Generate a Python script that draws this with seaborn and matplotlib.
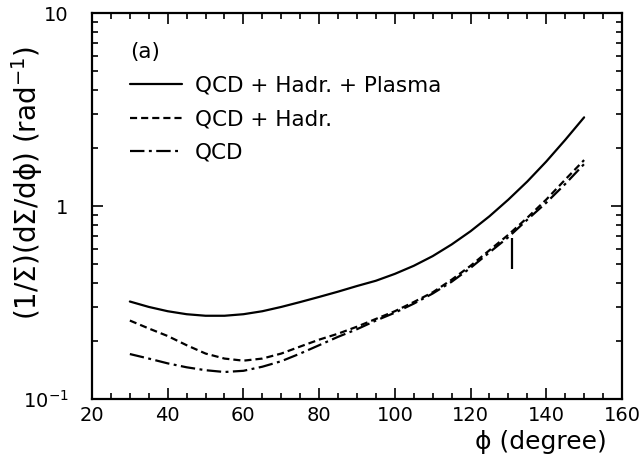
import numpy as np
import pandas as pd
import seaborn as sns
import matplotlib
matplotlib.use("Agg")
from matplotlib import pyplot as plt
from matplotlib import ticker

# datos
phi = [30, 35, 40, 45, 50, 55, 60, 65, 70, 75, 80, 85, 90, 95, 100,
       105, 110, 115, 120, 125, 130, 135, 140, 145, 150]

qcd_hadr_plasma = [0.32, 0.30, 0.285, 0.275, 0.27, 0.27, 0.275, 0.285, 0.30, 0.318,
                   0.338, 0.36, 0.385, 0.41, 0.445, 0.49, 0.55, 0.632, 0.74, 0.885,
                   1.08, 1.34, 1.70, 2.20, 2.88]
qcd_hadr = [0.255, 0.232, 0.212, 0.19, 0.172, 0.162, 0.158, 0.162, 0.172, 0.187,
            0.203, 0.218, 0.237, 0.26, 0.285, 0.318, 0.357, 0.415, 0.49, 0.59,
            0.71, 0.87, 1.08, 1.37, 1.73]
qcd = [0.171, 0.162, 0.153, 0.146, 0.141, 0.138, 0.140, 0.147, 0.157, 0.172,
       0.19, 0.21, 0.23, 0.255, 0.28, 0.312, 0.352, 0.405, 0.478, 0.575,
       0.69, 0.85, 1.04, 1.30, 1.65]

labels = ['QCD + Hadr. + Plasma', 'QCD + Hadr.', 'QCD']

# marca vertical cerca de 130 grados
mark_x = [131]
mark_lo = [0.47]
mark_hi = [0.68]

# se arma el DataFrame en formato largo
df = pd.DataFrame({
    'phi': phi * 3,
    'valor': qcd_hadr_plasma + qcd_hadr + qcd,
    'modelo': [labels[0]] * len(phi) + [labels[1]] * len(phi) + [labels[2]] * len(phi),
})

sns.set_style('ticks')
plt.rcParams['font.family'] = ['DejaVu Sans']
plt.rcParams['text.color'] = 'black'
plt.rcParams['axes.labelcolor'] = 'black'
plt.rcParams['xtick.color'] = 'black'
plt.rcParams['ytick.color'] = 'black'

fig = plt.figure(figsize=(6.42, 4.58), dpi=100)
ax = fig.add_axes([0.1433, 0.1288, 0.8255, 0.8428])

sns.lineplot(data=df, x='phi', y='valor', style='modelo', style_order=labels,
             dashes={labels[0]: '', labels[1]: (3.2, 1.8), labels[2]: (6.5, 2.0, 1.3, 2.0)},
             color='black', linewidth=1.6, ax=ax)

ax.vlines(mark_x, mark_lo, mark_hi, color='black', linewidth=1.6)

# escalas y ejes
ax.set_yscale('log')
ax.set_xlim(20, 160)
ax.set_ylim(0.1, 10)
ax.xaxis.set_major_locator(ticker.MultipleLocator(20))
ax.xaxis.set_minor_locator(ticker.MultipleLocator(5))
ax.yaxis.set_major_locator(ticker.FixedLocator([0.1, 1, 10]))
ax.yaxis.set_major_formatter(ticker.FixedFormatter(['$10^{-1}$', '1', '10']))
ax.yaxis.set_minor_locator(ticker.LogLocator(base=10, subs=np.arange(2, 10)))
ax.yaxis.set_minor_formatter(ticker.NullFormatter())

ax.tick_params(which='both', direction='in', top=True, right=True, width=1.2, color='black')
ax.tick_params(which='major', length=8, labelsize=14)
ax.tick_params(which='minor', length=4.5)
ax.tick_params(axis='x', which='major', pad=5)
ax.tick_params(axis='y', which='major', pad=17)
for s in ax.spines.values():
    s.set_linewidth(1.6)
    s.set_color('black')

ax.set_xlabel('ϕ (degree)', fontsize=18, ha='right')
ax.xaxis.set_label_coords(0.972, -0.08)
ax.set_ylabel('(1/Σ)(dΣ/dϕ) (rad$^{-1}$)', fontsize=20)
ax.yaxis.set_label_coords(-0.088, 0.56)

ax.text(0.0717, 0.899, '(a)', transform=ax.transAxes, fontsize=15.5, va='center', ha='left')

handles, labs = ax.get_legend_handles_labels()
ax.legend(handles, labs, frameon=False, loc='center left', bbox_to_anchor=(0.0717, 0.725),
          borderpad=0, borderaxespad=0, fontsize=15.5, handlelength=2.4,
          handletextpad=0.6, labelspacing=0.62)

plt.savefig('out.png', dpi=100)
